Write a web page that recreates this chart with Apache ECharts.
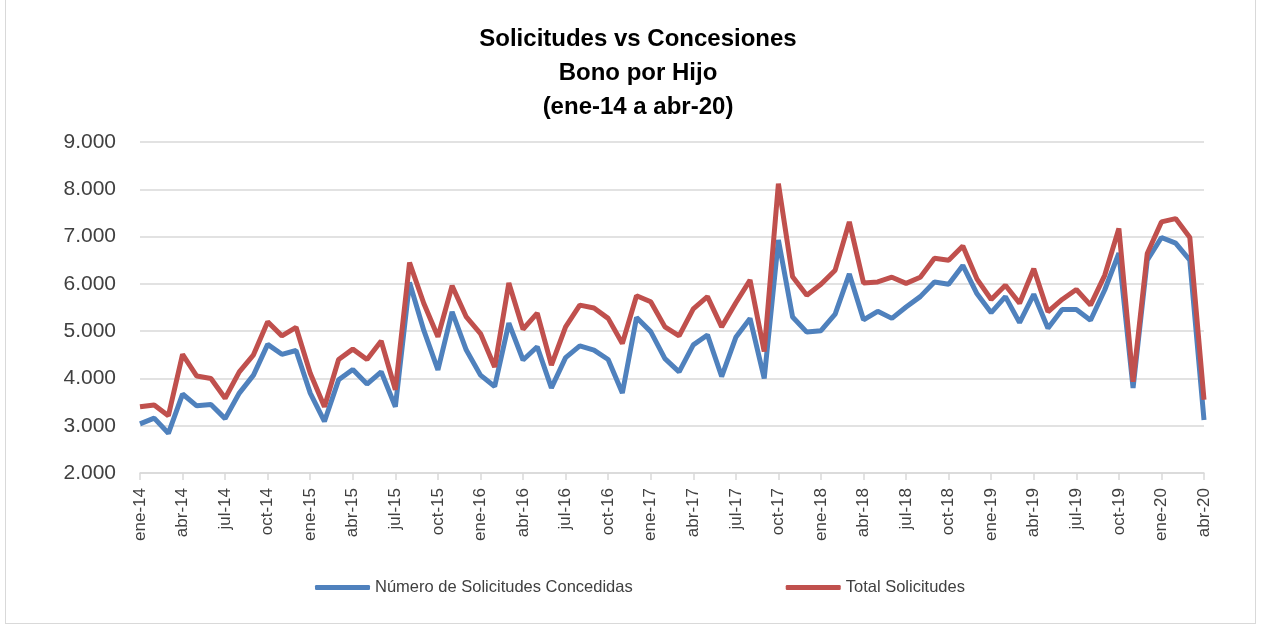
<!DOCTYPE html>
<html>
<head>
<meta charset="utf-8">
<script src="https://cdn.jsdelivr.net/npm/echarts@6/dist/echarts.min.js"></script>
<style>
  html, body { margin: 0; padding: 0; background: #fff; }
  #frame { position: absolute; left: 5px; top: -2px; width: 1249px; height: 624px; border: 1px solid #d9d9d9; }
  #main { width: 1263px; height: 626px; }
</style>
</head>
<body>
<div id="frame"></div>
<div id="main"></div>
<script>
  // meses abreviados y años (ene-14 .. abr-20)
  var meses = ['ene', 'feb', 'mar', 'abr', 'may', 'jun', 'jul', 'ago', 'sep', 'oct', 'nov', 'dic'];
  var anios = ['14', '15', '16', '17', '18', '19', '20'];

  var concedidas = [
    3040, 3160, 2840, 3670, 3420, 3450, 3150, 3690, 4070, 4720, 4510, 4590,
    3690, 3090, 3970, 4190, 3880, 4140, 3400, 6030, 5020, 4180, 5410, 4600,
    4070, 3830, 5170, 4390, 4670, 3800, 4440, 4690, 4600, 4400, 3690, 5290,
    4990, 4420, 4140, 4710, 4920, 4040, 4870, 5270, 4000, 6930, 5300, 4980,
    5010, 5360, 6210, 5240, 5420, 5270, 5510, 5730, 6040, 5990, 6390, 5790,
    5390, 5730, 5180, 5780, 5060, 5460, 5460, 5230, 5870, 6650, 3800, 6500,
    6980, 6860, 6500, 3120
  ];
  var totales = [
    3400, 3440, 3210, 4510, 4050, 4000, 3580, 4140, 4500, 5200, 4900, 5080,
    4110, 3400, 4400, 4620, 4400, 4790, 3760, 6450, 5590, 4880, 5960, 5300,
    4950, 4240, 6020, 5040, 5380, 4280, 5090, 5550, 5490, 5270, 4740, 5750,
    5620, 5090, 4900, 5470, 5730, 5090, 5600, 6080, 4570, 8120, 6150, 5760,
    5990, 6290, 7310, 6020, 6040, 6140, 6010, 6140, 6540, 6500, 6800, 6100,
    5670, 5970, 5590, 6320, 5410, 5670, 5880, 5550, 6180, 7170, 3930, 6640,
    7310, 7380, 6980, 3550
  ];

  var categorias = [];
  anios.forEach(function (a) {
    meses.forEach(function (m) {
      if (categorias.length < concedidas.length) categorias.push(m + '-' + a);
    });
  });

  var myChart = echarts.init(document.getElementById('main'));
  var fuente = '"Liberation Sans", Arial, sans-serif';
  var option = {
    animation: false,
    title: {
      text: 'Solicitudes vs Concesiones\nBono por Hijo\n(ene-14 a abr-20)',
      left: 633,
      top: 17,
      textAlign: 'center',
      textStyle: { fontFamily: fuente, fontSize: 24, fontWeight: 'bold', color: '#000', lineHeight: 34 }
    },
    grid: { left: 140, right: 59, top: 142, bottom: 153 },
    legend: {
      bottom: 25,
      left: 310,
      itemGap: 153,
      itemWidth: 55,
      itemHeight: 5,
      icon: 'roundRect',
      textStyle: { fontFamily: fuente, fontSize: 16.5, color: '#404040' },
      data: ['Número de Solicitudes Concedidas', 'Total Solicitudes']
    },
    xAxis: {
      type: 'category',
      boundaryGap: false,
      data: categorias,
      axisLine: { lineStyle: { color: '#d9d9d9', width: 1.5 } },
      axisTick: { interval: 2, length: 7, lineStyle: { color: '#d9d9d9', width: 1.5 } },
      axisLabel: { interval: 2, rotate: 90, margin: 15, fontFamily: fuente, fontSize: 17, color: '#404040' },
      splitLine: { show: false }
    },
    yAxis: {
      type: 'value',
      min: 2000,
      max: 9000,
      interval: 1000,
      axisLine: { show: false },
      axisTick: { show: false },
      axisLabel: {
        margin: 24,
        fontFamily: fuente,
        fontSize: 21,
        color: '#404040',
        formatter: function (v) { return (v / 1000).toFixed(3); }
      },
      splitLine: { lineStyle: { color: '#d9d9d9', width: 1.5 } }
    },
    series: [
      {
        name: 'Número de Solicitudes Concedidas',
        type: 'line',
        data: concedidas,
        symbol: 'none',
        lineStyle: { color: '#4F81BD', width: 5 },
        itemStyle: { color: '#4F81BD' }
      },
      {
        name: 'Total Solicitudes',
        type: 'line',
        data: totales,
        symbol: 'none',
        lineStyle: { color: '#C0504D', width: 5 },
        itemStyle: { color: '#C0504D' }
      }
    ]
  };
  myChart.setOption(option);
</script>
</body>
</html>
